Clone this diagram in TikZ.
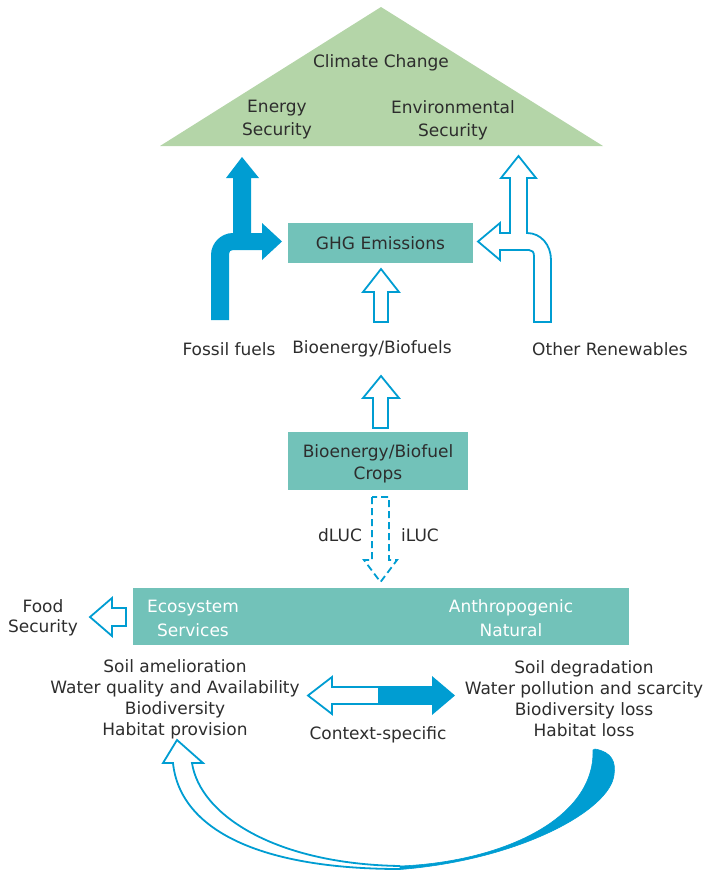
\documentclass[tikz,border=0pt]{standalone}
\usepackage{fontspec}
\setmainfont{DejaVu Sans}
\definecolor{arrowblue}{RGB}{0,157,210}
\definecolor{boxteal}{RGB}{114,194,185}
\definecolor{trigreen}{RGB}{180,213,168}
\definecolor{txtgray}{RGB}{45,45,45}
\tikzset{
  txt/.style={font=\fontsize{17}{21}\selectfont, text=txtgray, align=center, inner sep=0pt},
  wtxt/.style={txt, text=white},
  outarrow/.style={draw=arrowblue, line width=1.8pt, fill=white, line join=miter},
  dasharrow/.style={draw=arrowblue, line width=1.8pt, dash pattern=on 7pt off 4pt, line join=miter},
  solidarrow/.style={fill=arrowblue},
  tealbox/.style={fill=boxteal}
}
\begin{document}
\begin{tikzpicture}[x=1pt,y=-1pt]
\useasboundingbox (0,0) rectangle (705,871);

% triangle
\fill[trigreen] (160,146) -- (381,7) -- (603,146) -- cycle;
\node[txt] (cc) at (381,63) {Climate Change};
\node[txt, font=\fontsize{17}{23}\selectfont] (es) at (277,120) {Energy\\Security};
\node[txt, font=\fontsize{17}{23}\selectfont] (ens) at (453,120) {Environmental\\Security};

% GHG box
\fill[tealbox] (288,223) rectangle (473,263);
\node[txt] (ghg) at (380.5,243) {GHG Emissions};

% fossil fuels arrow (solid)
\fill[arrowblue] (211,320) -- (211,255) .. controls (211,243) and (221,233) .. (233,233)
  -- (233,178) -- (226,178) -- (242,157) -- (259,178) -- (251,178) -- (251,233)
  -- (262,233) -- (262,223) -- (282,241.5) -- (262,260) -- (262,250) -- (233,250)
  .. controls (230.5,250) and (229,251.5) .. (229,254) -- (229,320) -- cycle;

% other renewables arrow (outline)
\draw[outarrow] (534,322) -- (534,256) .. controls (534,252) and (532,250) .. (529,250)
  -- (500,250) -- (500,260) -- (478,241.5) -- (500,223) -- (500,233) -- (510,233)
  -- (510,178) -- (501,178) -- (518.5,156) -- (536,178) -- (527,178) -- (527,233)
  .. controls (541,233) and (551,245) .. (551,260) -- (551,322) -- cycle;

% bioenergy -> GHG arrow
\draw[outarrow] (374,322) -- (374,292) -- (363,292) -- (381,269) -- (399,292) -- (388,292) -- (388,322) -- cycle;

% labels row
\node[txt] (ff) at (229,349) {Fossil fuels};
\node[txt] (bb) at (372,349) {Bioenergy/Biofuels};
\node[txt] (or) at (610,349) {Other Renewables};

% crops -> bioenergy arrow
\draw[outarrow] (373,428) -- (373,398) -- (363,398) -- (381,376) -- (399,398) -- (388,398) -- (388,428) -- cycle;

% crops box
\fill[tealbox] (288,432) rectangle (468,490);
\node[txt, font=\fontsize{17}{22}\selectfont] (crops) at (378,464) {Bioenergy/Biofuel\\Crops};

% dashed LUC arrow
\draw[dasharrow] (372,497) -- (372,560) -- (364,560) -- (380.5,582) -- (397,560) -- (389,560) -- (389,497) -- cycle;
\node[txt] (dluc) at (340,535) {dLUC};
\node[txt] (iluc) at (420,535) {iLUC};

% big box
\fill[tealbox] (133,588) rectangle (629,645);
\node[wtxt, font=\fontsize{17}{24}\selectfont] (eco) at (193,618) {Ecosystem\\Services};
\node[wtxt, font=\fontsize{17}{24}\selectfont] (anth) at (511,618) {Anthropogenic\\Natural};

% food security
\draw[outarrow] (126,608) -- (112,608) -- (112,598) -- (90,617) -- (112,636) -- (112,626) -- (126,626) -- cycle;
\node[txt, font=\fontsize{17}{20}\selectfont] (food) at (43,618) {Food\\Security};

% lists
\node[txt] (left) at (175,699) {Soil amelioration\\Water quality and Availability\\Biodiversity\\Habitat provision};
\node[txt] (right) at (584,699) {Soil degradation\\Water pollution and scarcity\\Biodiversity loss\\Habitat loss};

% double arrow
\draw[outarrow] (379,687) -- (332,687) -- (332,677) -- (308,695.5) -- (332,714) -- (332,704) -- (379,704) -- cycle;
\fill[arrowblue] (378,686.1) -- (432,686.1) -- (432,676) -- (455,695.5) -- (432,715) -- (432,704.9) -- (378,704.9) -- cycle;
\node[txt] (ctx) at (378,735) {Context-specific};

% bottom curved arrow
\draw[outarrow] (400,869) .. controls (260,869) and (180,830) .. (173,763) -- (163,763) -- (177,740)
  -- (203,763) -- (192,763) .. controls (200,815) and (275,864) .. (400,866);
\filldraw[arrowblue, line width=0.6pt] (400,866) .. controls (500,862) and (595,820) .. (593,750) -- (595,749)
  .. controls (612,752) and (616,762) .. (614,775) .. controls (610,810) and (520,860) .. (400,869.5) -- cycle;
\end{tikzpicture}
\end{document}
